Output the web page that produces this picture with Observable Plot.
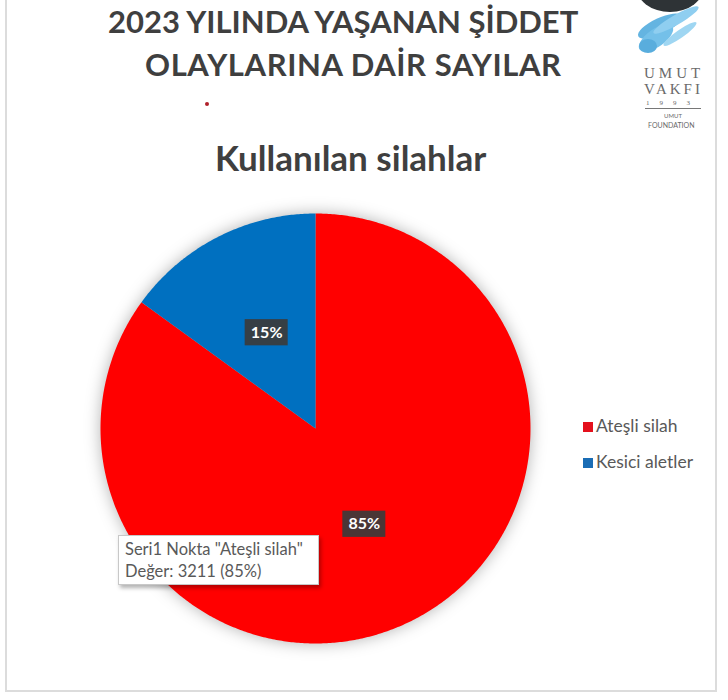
<!DOCTYPE html>
<html>
<head>
<meta charset="utf-8">
<script src="https://cdn.jsdelivr.net/npm/d3@7"></script>
<script src="https://cdn.jsdelivr.net/npm/@observablehq/plot@0.6"></script>
<style>
  html, body { margin: 0; padding: 0; background: #fff; }
  #page { position: relative; width: 728px; height: 700px; overflow: hidden; background: #fff; font-family: Lato, "Open Sans", sans-serif; }
  .frame { position: absolute; left: 5px; top: -5px; width: 712px; height: 697px; border: 2px solid #dcdcdc; box-sizing: border-box; }
  .title { position: absolute; white-space: nowrap; color: #3f3f3f; font-weight: 700; }
  #chart { position: absolute; left: 0; top: 190px; }
  #chart svg { overflow: visible; }
  .legend { position: absolute; left: 583px; font-size: 17.5px; color: #595959; white-space: nowrap; }
  .legend span.sw { display: inline-block; width: 10px; height: 10px; margin-right: 3px; vertical-align: 0px; }
  .tip { position: absolute; left: 118px; top: 535px; width: 201px; height: 50px; background: #fff; border: 1px solid #c8c8c8; box-sizing: border-box; box-shadow: 2px 3px 4px rgba(0,0,0,0.3); color: #595959; font-size: 16.5px; line-height: 22px; padding: 2px 0 0 6px; white-space: nowrap; }
  .logo-text { position: absolute; font-family: "Liberation Serif", "DejaVu Serif", serif; color: #6a6a6a; white-space: nowrap; }
</style>
</head>
<body>
<div id="page">
  <div class="frame"></div>
  <div class="title" id="t1" style="left:108px; top:2px; font-size:31px;">2023 YILINDA YAŞANAN ŞİDDET</div>
  <div class="title" id="t2" style="left:145px; top:45px; font-size:31px; letter-spacing:0.6px;">OLAYLARINA DAİR SAYILAR</div>
  <div style="position:absolute; left:205px; top:102px; width:4px; height:4px; border-radius:2px; background:#b0202a;"></div>
  <div class="title" id="t3" style="left:215px; top:136px; font-size:35px;">Kullanılan silahlar</div>

  <svg style="position:absolute; left:620px; top:0;" width="100" height="70">
    <ellipse cx="50" cy="-14" rx="34" ry="26" fill="#2e3336"/>
    <g fill="#4aa8dc" opacity="0.85">
      <ellipse cx="40" cy="26" rx="24" ry="8" transform="rotate(-25 40 26)"/>
      <ellipse cx="36" cy="38" rx="20" ry="9" transform="rotate(-35 36 38)" fill="#5cb6e6"/>
      <ellipse cx="56" cy="20" rx="26" ry="5" transform="rotate(-30 56 20)" fill="#7cc6ee"/>
      <ellipse cx="28" cy="46" rx="9" ry="7" fill="#3d9fd8"/>
      <ellipse cx="60" cy="34" rx="20" ry="4" transform="rotate(-35 60 34)" fill="#8fd0f0"/>
    </g>
  </svg>
  <div class="logo-text" style="left:644px; top:65px; font-size:15px; letter-spacing:4px;">UMUT</div>
  <div class="logo-text" style="left:644px; top:81px; font-size:15px; letter-spacing:3px;">VAKFI</div>
  <div class="logo-text" style="left:646px; top:99px; font-size:7px; letter-spacing:10px;">1993</div>
  <div style="position:absolute; left:645px; top:108px; width:56px; height:1px; background:#777;"></div>
  <div class="logo-text" style="left:664px; top:112px; font-size:6px; font-family:Lato,sans-serif;">UMUT</div>
  <div class="logo-text" style="left:648px; top:121px; font-size:7px; font-family:Lato,sans-serif;">FOUNDATION</div>

  <div id="chart"></div>

  <div class="legend" id="leg1" style="top:415px;"><span class="sw" style="background:#e4101c"></span>Ateşli silah</div>
  <div class="legend" id="leg2" style="top:451px;"><span class="sw" style="background:#1a6db5"></span>Kesici aletler</div>

  <div class="tip">Seri1 Nokta "Ateşli silah"<br>Değer: 3211 (85%)</div>
</div>
<script>
// ---- data ----
const categories = ["Ateşli silah", "Kesici aletler"];
const values = [3211, 567];
const percentLabels = ["85%", "15%"];
const colors = ["#ff0000", "#0070c0"];

// ---- build slices ----
const rows = categories.map((c, i) => ({category: c, value: values[i], label: percentLabels[i]}));
const arcs = d3.pie().sort(null).value(d => d.value)(rows);
const pts = [];
for (const a of arcs) {
  pts.push({category: a.data.category, x: 0, y: 0});
  const n = Math.max(2, Math.ceil((a.endAngle - a.startAngle) / (Math.PI / 360)));
  for (let k = 0; k <= n; k++) {
    const t = a.startAngle + (a.endAngle - a.startAngle) * k / n;
    pts.push({category: a.data.category, x: Math.sin(t), y: Math.cos(t)});
  }
}
const labels = arcs.map(a => {
  const m = (a.startAngle + a.endAngle) / 2;
  return {category: a.data.category, label: a.data.label, x: 0.5 * Math.sin(m), y: 0.5 * Math.cos(m)};
});
const bw = 0.1, bh = 0.061;

const chart = Plot.plot({
  width: 728,
  height: 510,
  margin: 0,
  style: {background: "transparent", overflow: "visible"},
  x: {domain: [-1, 1], range: [100, 530], axis: null},
  y: {domain: [-1, 1], range: [453, 23], axis: null},
  color: {domain: categories, range: colors},
  marks: [
    Plot.line(pts, {x: "x", y: "y", z: "category", fill: "category", stroke: "none", curve: "linear-closed",
      style: {filter: "drop-shadow(0px 0px 8px rgba(0,0,0,0.3))"}}),
    Plot.rect(labels, {x1: d => d.x - bw, x2: d => d.x + bw, y1: d => d.y - bh, y2: d => d.y + bh, fill: "#3b3b3b", fillOpacity: 0.92}),
    Plot.text(labels, {x: "x", y: "y", text: "label", fill: "#ffffff", fontSize: 16, fontWeight: 700, fontFamily: "Lato, sans-serif"})
  ]
});
const lineG = chart.querySelector('g[aria-label="line"]');
if (lineG) lineG.setAttribute("style", "filter: drop-shadow(0px 0px 8px rgba(0,0,0,0.3))");
document.getElementById("chart").appendChild(chart);
</script>
</body>
</html>
